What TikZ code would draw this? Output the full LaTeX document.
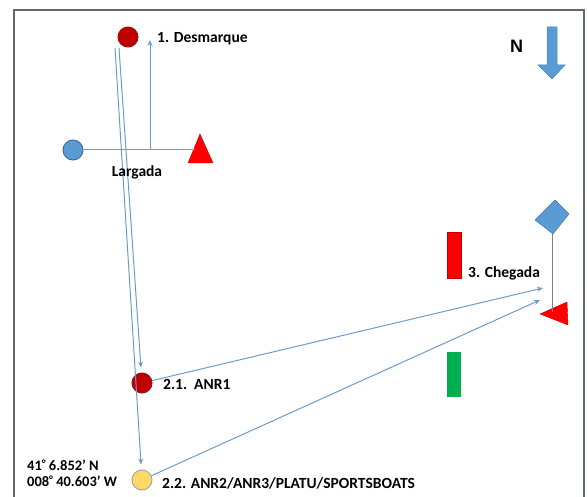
\documentclass[tikz,border=0pt]{standalone}
\usepackage{fontspec}
\setmainfont{Carlito}
\newfontfamily\arialfont{Liberation Sans}
\usetikzlibrary{arrows.meta}
\definecolor{lineblue}{RGB}{110,155,200}
\definecolor{framegrey}{RGB}{95,105,115}
\definecolor{darkred}{RGB}{192,0,0}
\definecolor{deepred}{RGB}{150,20,30}
\definecolor{midblue}{RGB}{91,155,213}
\definecolor{edgeblue}{RGB}{65,113,156}
\definecolor{paleyellow}{RGB}{255,217,102}
\definecolor{brightred}{RGB}{255,0,0}
\definecolor{markgreen}{RGB}{0,176,80}
\newcommand{\degmark}{{\fontsize{11}{11}\selectfont\raisebox{2.5pt}{°}}}
\tikzset{
  conn/.style={draw=lineblue, line width=1pt},
  arr/.style={conn, -{Stealth[length=6pt,width=5pt]}},
  buoy/.style={circle, minimum size=20pt, inner sep=0pt, line width=1pt},
  lbl/.style={font=\bfseries\fontsize{15.5}{17}\selectfont, inner sep=0pt},
  coordlbl/.style={font=\bfseries\fontsize{14.5}{16}\selectfont, inner sep=0pt, anchor=base west},
}
\begin{document}
\begin{tikzpicture}[x=1pt,y=-1pt]
\useasboundingbox (0,0) rectangle (588,497);
% frame
\draw[framegrey, line width=1.2pt] (14,497) -- (14,10) -- (584,10) -- (584,497);

% buoys
\node[buoy, fill=darkred, draw=deepred] (desm) at (128,37) {};
\node[buoy, fill=midblue, draw=edgeblue] (larg) at (73,150) {};
\node[buoy, fill=darkred, draw=deepred] (anr1) at (142,383) {};
\node[buoy, fill=paleyellow, draw=gray!70] (anr2) at (142,480) {};

% start triangle
\fill[brightred, draw=darkred] (200,134) -- (213,163) -- (188,163) -- cycle;
\coordinate (tri) at (195,150);

% start line
\draw[conn] (larg) -- (tri);
\coordinate (up0) at (150,150);
\coordinate (up1) at (150,40);
\draw[arr] (up0) -- (up1);

% legs
\coordinate (d1) at (115,48);
\coordinate (d2) at (119,48);
\draw[arr, shorten >=5pt] (d2) -- (anr1);
\draw[arr, shorten >=5pt] (d1) -- (anr2);

% finish
\fill[midblue, draw=edgeblue] (535,220) -- (555,200) -- (569,214) -- (553,234) -- cycle;
\coordinate (dia) at (552,234);
\coordinate (fintop) at (552,312);
\fill[brightred, draw=darkred] (540,314) -- (567,302) -- (568,325) -- cycle;
\draw[conn, draw=gray] (dia) -- (fintop);
\coordinate (f1) at (543,288);
\coordinate (f2) at (540,300);
\draw[arr] (anr1) -- (f1);
\draw[arr] (anr2) -- (f2);

% gate marks
\fill[brightred, draw=darkred] (447,232) rectangle (461,278);
\fill[markgreen] (447,352) rectangle (461,397);

% north arrow
\fill[midblue, draw=midblue!85!black, line width=0.5pt]
  (547,27) -- (557,27) -- (557,65) -- (565,65) -- (552,79) -- (538,65) -- (547,65) -- cycle;
\node[inner sep=0pt, anchor=base west, font=\arialfont\bfseries\fontsize{18}{20}\selectfont] (nlab) at (510,53) {N};

% labels
\node[lbl, anchor=base west] (l1) at (157,43) {1. Desmarque};
\node[lbl, anchor=base] (l2) at (137,176) {Largada};
\node[lbl, anchor=base west] (l3) at (163,389) {2.1.\ \ ANR1};
\node[lbl, anchor=base west] (l4) at (162,488) {2.2. ANR2/ANR3/PLATU/SPORTSBOATS};
\node[lbl, anchor=base west] (l5) at (468,277) {3. Chegada};
\node[coordlbl] (c1) at (27,470) {41\degmark\ 6.852’ N};
\node[coordlbl] (c2) at (27,486) {008\degmark\ 40.603’ W};
\end{tikzpicture}
\end{document}
